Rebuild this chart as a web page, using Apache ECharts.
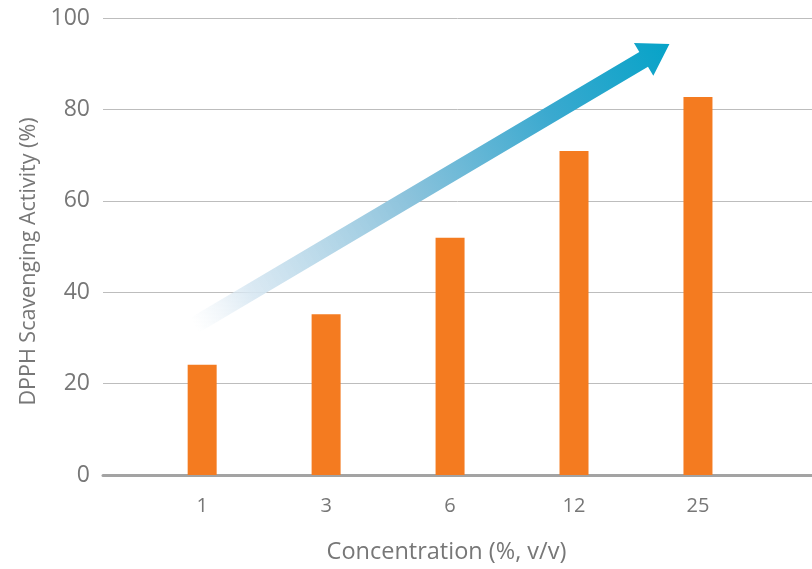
<!DOCTYPE html>
<html><head><meta charset="utf-8">
<script src="https://cdn.jsdelivr.net/npm/echarts@6/dist/echarts.min.js"></script>
<style>html,body{margin:0;padding:0;background:#fff}#c{width:812px;height:569px}</style>
</head><body><div id="c"></div>
<script>
const categories = ['1', '3', '6', '12', '25'];
const activity = [24.1, 35.2, 51.9, 70.9, 82.7];
const yTicks = [0, 20, 40, 60, 80, 100];
const arrowFrom = [-0.06, 32.8];
const arrowTo = [3.77, 94.3];

const chart = echarts.init(document.getElementById('c'), null, {renderer: 'canvas'});
const font = '"Open Sans", sans-serif';
const option = {
  animation: false,
  grid: {left: 103, right: 0, top: 18, bottom: 94},
  xAxis: {
    type: 'value', min: -0.8, max: 4.92,
    name: 'Concentration (%, v/v)', nameLocation: 'middle', nameGap: 65,
    nameTextStyle: {color: '#777777', fontSize: 23.5, fontFamily: font, padding: [0, 22, 0, 0]},
    axisLine: {show: true, onZero: false, lineStyle: {color: '#a3a3a3', width: 3}},
    axisTick: {show: false},
    splitLine: {show: false},
    axisLabel: {customValues: categories.map((c, i) => i), formatter: v => categories[Math.round(v)],
      color: '#777777', fontSize: 20, fontFamily: font, margin: 21}
  },
  yAxis: {
    type: 'value', min: yTicks[0], max: yTicks[yTicks.length - 1], interval: 20,
    name: 'DPPH Scavenging Activity (%)', nameLocation: 'middle', nameGap: 56,
    nameTextStyle: {color: '#777777', fontSize: 21.5, fontFamily: font, padding: [0, 30, 0, 0]},
    axisLine: {show: false}, axisTick: {show: false},
    splitLine: {lineStyle: {color: '#bdbdbd', width: 1}},
    axisLabel: {color: '#777777', fontSize: 23, fontFamily: font, margin: 13}
  },
  series: [{
    type: 'bar', barWidth: 29,
    data: activity.map((v, i) => [i, v]),
    itemStyle: {color: '#f47b20'}
  }]
};
chart.setOption(option);

const p0 = chart.convertToPixel({gridIndex: 0}, arrowFrom);
const p1 = chart.convertToPixel({gridIndex: 0}, arrowTo);
const dx = p1[0] - p0[0], dy = p1[1] - p0[1];
const L = Math.hypot(dx, dy);
const ux = dx / L, uy = dy / L, nx = -uy, ny = ux;
const sw = 8.5, hw = 19, hl = 30;
const bx = p1[0] - ux * hl, by = p1[1] - uy * hl;
const pts = [
  [p0[0] + nx * sw, p0[1] + ny * sw],
  [bx + nx * sw, by + ny * sw],
  [bx + nx * hw, by + ny * hw],
  [p1[0], p1[1]],
  [bx - nx * hw, by - ny * hw],
  [bx - nx * sw, by - ny * sw],
  [p0[0] - nx * sw, p0[1] - ny * sw]
];
chart.setOption({
  graphic: [{
    type: 'polygon', z: 100,
    shape: {points: pts},
    style: {fill: {type: 'linear', global: true, x: p0[0], y: p0[1], x2: p1[0], y2: p1[1],
      colorStops: [
        {offset: 0, color: 'rgba(225,236,244,0)'},
        {offset: 0.12, color: 'rgba(215,231,242,0.9)'},
        {offset: 0.45, color: '#8cc3dc'},
        {offset: 0.75, color: '#3aa9cf'},
        {offset: 1, color: '#06a3c8'}
      ]}}
  }]
});
</script></body></html>
